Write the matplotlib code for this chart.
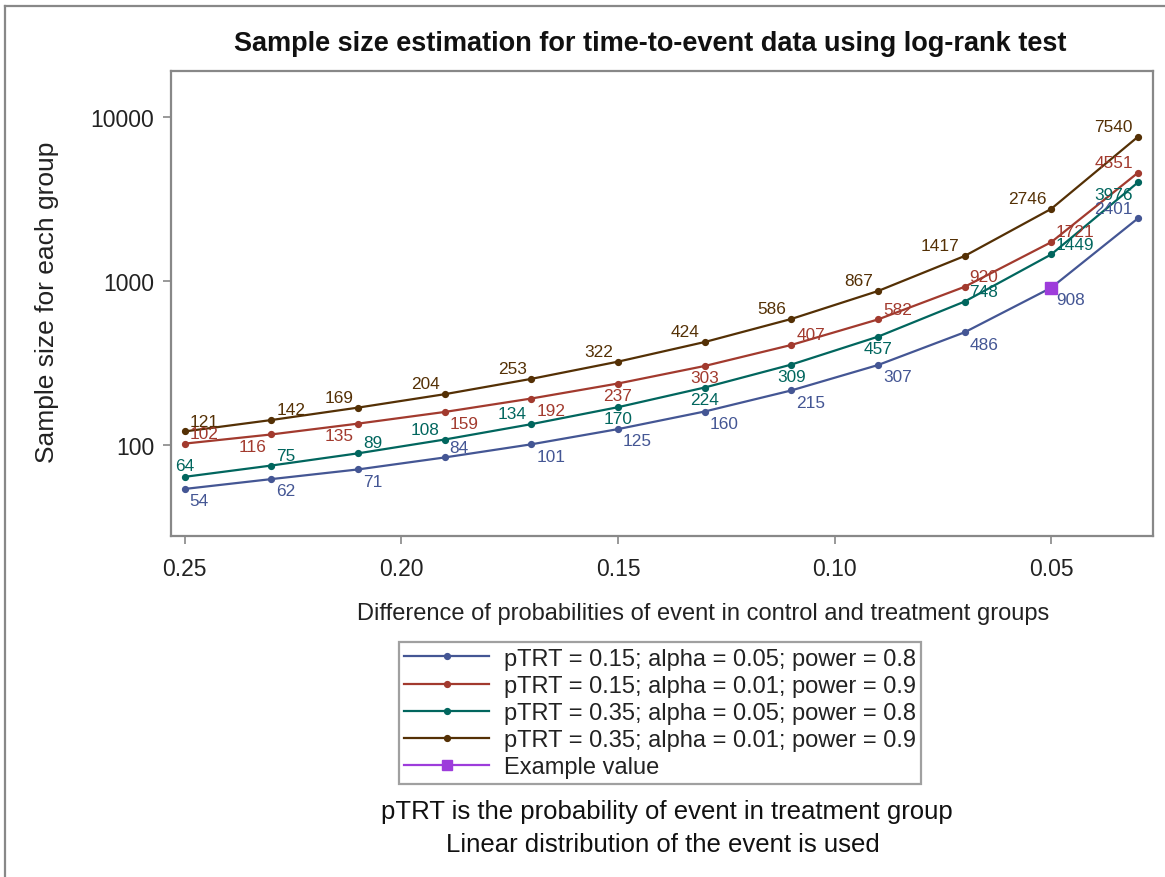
import matplotlib
matplotlib.use("Agg")
import matplotlib.pyplot as plt
from matplotlib.lines import Line2D
from matplotlib.ticker import FixedLocator, NullLocator

plt.rcParams['font.family'] = ['Liberation Sans', 'DejaVu Sans']

# ---- data ----
diff = [0.25, 0.23, 0.21, 0.19, 0.17, 0.15, 0.13, 0.11, 0.09, 0.07, 0.05, 0.03]
n_015_a05_p8 = [54, 62, 71, 84, 101, 125, 160, 215, 307, 486, 908, 2401]
n_015_a01_p9 = [102, 116, 135, 159, 192, 237, 303, 407, 582, 920, 1721, 4551]
n_035_a05_p8 = [64, 75, 89, 108, 134, 170, 224, 309, 457, 748, 1449, 3976]
n_035_a01_p9 = [121, 142, 169, 204, 253, 322, 424, 586, 867, 1417, 2746, 7540]
example_x = [0.05]
example_y = [908]
series_labels = ["pTRT = 0.15; alpha = 0.05; power = 0.8",
                 "pTRT = 0.15; alpha = 0.01; power = 0.9",
                 "pTRT = 0.35; alpha = 0.05; power = 0.8",
                 "pTRT = 0.35; alpha = 0.01; power = 0.9"]
example_label = "Example value"
y_ticks = [100, 1000, 10000]
x_ticks = [0.25, 0.20, 0.15, 0.10, 0.05]
x_tick_labels = ["0.25", "0.20", "0.15", "0.10", "0.05"]

# ---- styles ----
colors = ["#445694", "#A23A2E", "#01665E", "#543005"]
example_color = "#9D3CDB"
# label placement per point (compass position relative to marker)
label_pos = [
    ['se', 'se', 'se', 'ne', 'se', 'se', 'se', 'se', 'se', 'se', 'se', 'nw'],
    ['ne', 'sw', 'sw', 'se', 'se', 's', 's', 'ne', 'ne', 'ne', 'ne', 'nw'],
    ['n', 'ne', 'ne', 'nw', 'nw', 's', 's', 's', 's', 'ne', 'ne', 'sw'],
    ['ne', 'ne', 'nw', 'nw', 'nw', 'nw', 'nw', 'nw', 'nw', 'nw', 'nw', 'nw'],
]
pos_map = {
    'ne': ((3.5, 7.5), 'left', 'center'),
    'se': ((3.5, -8.5), 'left', 'center'),
    'nw': ((-3.5, 7.5), 'right', 'center'),
    'sw': ((-3.5, -8.5), 'right', 'center'),
    'n': ((0, 8), 'center', 'center'),
    's': ((0, -8.5), 'center', 'center'),
}

W, H = 1165, 878
fig = plt.figure(figsize=(W / 100, H / 100), dpi=100)
ax = fig.add_axes([171 / W, 1 - 537 / H, (1153 - 171) / W, (537 - 72) / H])

all_series = [n_015_a05_p8, n_015_a01_p9, n_035_a05_p8, n_035_a01_p9]
for vals, col, lab, poss in zip(all_series, colors, series_labels, label_pos):
    ax.plot(diff, vals, color=col, lw=1.6, marker='o', markersize=4.2, label=lab, zorder=3)
    for x, y, p in zip(diff, vals, poss):
        off, ha, va = pos_map[p]
        ax.annotate(str(y), (x, y), xytext=off, textcoords='offset points',
                    ha=ha, va=va, color=col, fontsize=12.4, zorder=4)

ax.plot(example_x, example_y, color=example_color, marker='s', markersize=8,
        linestyle='none', zorder=5)

ax.set_yscale('log')
ax.set_ylim(27.9, 19000)
ax.set_xlim(0.2532, 0.0265)
ax.yaxis.set_major_locator(FixedLocator(y_ticks))
ax.yaxis.set_minor_locator(NullLocator())
ax.set_yticklabels([str(t) for t in y_ticks])
ax.set_xticks(x_ticks)
ax.set_xticklabels(x_tick_labels)
ax.tick_params(axis='both', labelsize=16.5, color='#888888', length=6, width=1.2,
               labelcolor='#222222', pad=6)
ax.tick_params(axis='x', pad=9)
for s in ax.spines.values():
    s.set_color('#888888')
    s.set_linewidth(1.6)

fig.text(47 / W, 1 - 302 / H, "Sample size for each group", rotation=90,
         ha='center', va='center', fontsize=19, color='#222222')
fig.text(703 / W, 1 - 614 / H,
         "Difference of probabilities of event in control and treatment groups",
         ha='center', va='center', fontsize=17, color='#222222')
fig.text(650 / W, 1 - 44 / H,
         "Sample size estimation for time-to-event data using log-rank test",
         ha='center', va='center', fontsize=19.5, fontweight='bold', color='#111111')

handles = [Line2D([], [], color=c, lw=1.6, marker='o', markersize=4.2) for c in colors]
handles.append(Line2D([], [], color=example_color, lw=1.6, marker='s', markersize=7))
leg = fig.legend(handles, series_labels + [example_label],
                 loc='center', bbox_to_anchor=(660 / W, 1 - 714 / H),
                 fontsize=17, frameon=True, fancybox=False, handlelength=3.6,
                 handletextpad=0.6, labelspacing=0.22, borderpad=0.25)
leg.get_frame().set_edgecolor('#888888')
leg.get_frame().set_linewidth(1.6)
for t in leg.get_texts():
    t.set_color('#222222')

fig.text(667 / W, 1 - 812 / H, "pTRT is the probability of event in treatment group",
         ha='center', va='center', fontsize=18.5, color='#111111')
fig.text(663 / W, 1 - 845 / H, "Linear distribution of the event is used",
         ha='center', va='center', fontsize=18.5, color='#111111')

# outer border (left and top edges)
fig.add_artist(Line2D([5 / W, 5 / W], [0, 1 - 7 / H], color='#888888', lw=1.6,
                      transform=fig.transFigure))
fig.add_artist(Line2D([5 / W, 1], [1 - 7 / H, 1 - 7 / H], color='#888888', lw=1.6,
                      transform=fig.transFigure))

fig.savefig("out.png", dpi=100, facecolor='white')
